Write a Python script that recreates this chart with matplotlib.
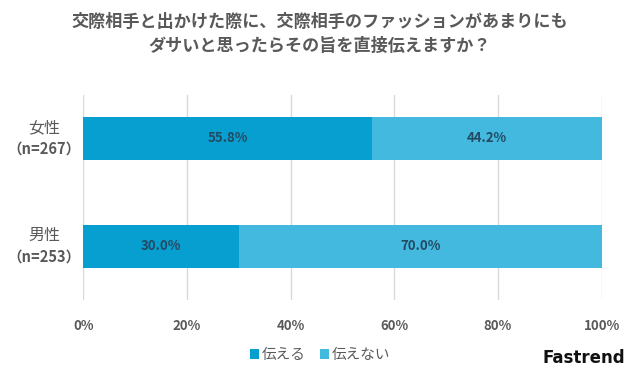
import matplotlib.pyplot as plt

plt.rcParams['font.family'] = ['Noto Sans CJK JP', 'DejaVu Sans']

# data
groups = ['男性', '女性']
sample_sizes = [253, 267]
tell = [30.0, 55.8]
not_tell = [70.0, 44.2]
series_names = ['伝える', '伝えない']
xticks = [0, 20, 40, 60, 80, 100]

dark_blue = '#079fcf'
light_blue = '#44b9df'
text_gray = '#595959'

fig = plt.figure(figsize=(6.4, 3.84), dpi=100)
ax = fig.add_axes([0.13, 0.219, 0.81, 0.534])

ypos = list(range(len(groups)))
bars1 = ax.barh(ypos, tell, height=0.4, color=dark_blue, label=series_names[0], zorder=3)
bars2 = ax.barh(ypos, not_tell, left=tell, height=0.4, color=light_blue, label=series_names[1], zorder=3)

for bars, vals in [(bars1, tell), (bars2, not_tell)]:
    for b, v in zip(bars, vals):
        ax.text(b.get_x() + b.get_width() / 2, b.get_y() + b.get_height() / 2, f'{v:.1f}%',
                ha='center', va='center', fontsize=9.5, fontweight='bold', color='#234a63', zorder=4)

ax.set_xlim(0, 100)
ax.set_ylim(-0.495, 1.403)
ax.set_xticks(xticks)
ax.set_xticklabels([f'{t}%' for t in xticks], fontsize=9.5, fontweight='bold', color=text_gray)
ax.set_yticks(ypos)
ax.set_yticklabels([])
ax.tick_params(axis='y', length=0)
ax.tick_params(axis='x', length=0, pad=14)
ax.grid(axis='x', color='#d9d9d9', linewidth=1, zorder=0)
for s in ax.spines.values():
    s.set_visible(False)

# two-line category labels: name on top, sample size in bold below
for y, g, n in zip(ypos, groups, sample_sizes):
    ax.text(-0.075, y + 0.1, g, transform=ax.get_yaxis_transform(), ha='center', va='center',
            fontsize=11.5, color=text_gray)
    ax.text(-0.075, y - 0.09, f'（n={n}）', transform=ax.get_yaxis_transform(), ha='center',
            va='center', fontsize=10.5, fontweight='bold', color=text_gray)

fig.text(0.5, 0.911, '交際相手と出かけた際に、交際相手のファッションがあまりにも\nダサいと思ったらその旨を直接伝えますか？',
         ha='center', va='center', fontsize=12.3, fontweight='bold', color=text_gray, linespacing=1.45)

fig.legend(loc='center', bbox_to_anchor=(0.5, 0.075), ncol=2, frameon=False,
           fontsize=10.5, handlelength=0.6, handleheight=0.6, handletextpad=0.2,
           columnspacing=1.0, labelcolor=text_gray)

fig.text(0.912, 0.068, 'Fastrend', ha='center', va='center', fontsize=12,
         fontweight='bold', color='#111111', family='DejaVu Sans')

fig.savefig('out.png', dpi=100, facecolor='white')
